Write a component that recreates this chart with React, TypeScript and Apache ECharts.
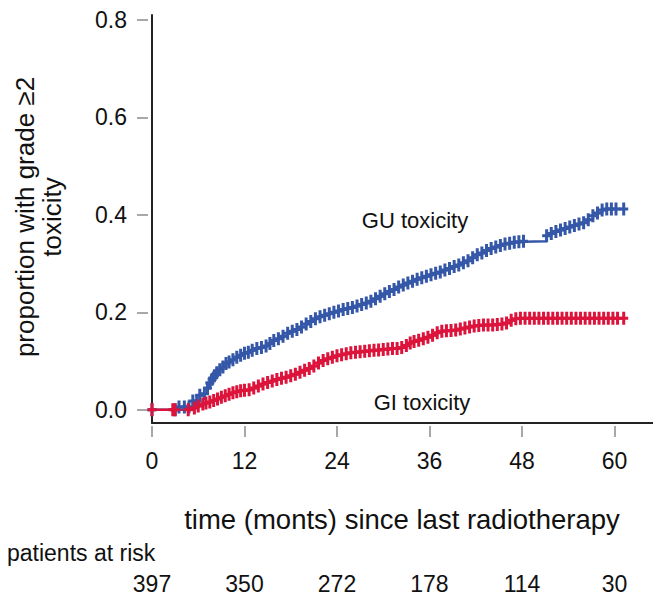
import React, { useEffect, useRef } from "react";
import * as echarts from "echarts";

const xTicks = [0, 12, 24, 36, 48, 60];
const yTicks = [0, 0.2, 0.4, 0.6, 0.8];
const riskTimes = [0, 12, 24, 36, 48, 60];
const riskCounts = [397, 350, 272, 178, 114, 30];

const guData: [number, number][] = [
  [0, 0], [3.0, 0], [3.5, 0.006], [4.2, 0.006], [4.8, 0.006], [5.3, 0.018], [5.8, 0.018],
  [6.2, 0.03], [6.8, 0.033], [7.2, 0.045], [7.5, 0.055], [7.8, 0.063], [8.1, 0.07],
  [8.4, 0.076], [8.8, 0.082], [9.2, 0.088], [9.6, 0.095], [10.0, 0.098], [10.5, 0.103],
  [11.0, 0.108], [11.5, 0.112], [12.0, 0.116], [12.5, 0.118], [13.0, 0.122], [13.6, 0.126],
  [14.2, 0.128], [14.8, 0.131], [15.3, 0.136], [15.8, 0.142], [16.4, 0.146], [17.0, 0.151],
  [17.6, 0.157], [18.2, 0.161], [18.8, 0.165], [19.4, 0.17], [20.0, 0.176], [20.6, 0.181],
  [21.2, 0.187], [21.8, 0.191], [22.4, 0.194], [23.0, 0.197], [23.6, 0.2], [24.2, 0.203],
  [24.8, 0.206], [25.4, 0.208], [26.0, 0.21], [26.6, 0.213], [27.2, 0.216], [27.8, 0.219],
  [28.4, 0.223], [29.0, 0.228], [29.6, 0.233], [30.2, 0.238], [30.8, 0.243], [31.4, 0.247],
  [32.0, 0.252], [32.6, 0.256], [33.2, 0.26], [33.8, 0.264], [34.4, 0.268], [35.0, 0.271],
  [35.6, 0.274], [36.2, 0.277], [36.8, 0.28], [37.4, 0.283], [38.0, 0.287], [38.6, 0.29],
  [39.2, 0.294], [39.8, 0.297], [40.4, 0.302], [41.0, 0.306], [41.6, 0.312], [42.2, 0.318],
  [42.8, 0.322], [43.4, 0.327], [44.0, 0.331], [44.6, 0.334], [45.2, 0.337], [45.8, 0.34],
  [46.4, 0.342], [47.0, 0.344], [47.6, 0.345], [48.2, 0.346], [51.2, 0.357], [51.8, 0.362],
  [52.4, 0.366], [53.0, 0.369], [53.6, 0.372], [54.2, 0.375], [54.8, 0.378], [55.4, 0.381],
  [56.0, 0.384], [56.6, 0.39], [57.2, 0.398], [57.8, 0.404], [58.4, 0.41], [59.0, 0.412],
  [59.6, 0.412], [60.2, 0.412], [61.2, 0.412],
];

const giData: [number, number][] = [
  [0, 0], [2.7, 0], [3.0, 0], [4.7, 0], [5.5, 0.004], [6.0, 0.008], [6.6, 0.012], [7.0, 0.014],
  [7.5, 0.016], [8.0, 0.019], [8.5, 0.022], [9.0, 0.026], [9.5, 0.029], [10.0, 0.032],
  [10.5, 0.035], [11.0, 0.037], [11.5, 0.039], [12.0, 0.04], [12.6, 0.041], [13.2, 0.045],
  [13.8, 0.049], [14.4, 0.053], [15.0, 0.056], [15.6, 0.059], [16.2, 0.062], [16.8, 0.065],
  [17.4, 0.067], [18.0, 0.07], [18.6, 0.073], [19.2, 0.077], [19.8, 0.081], [20.4, 0.085],
  [21.0, 0.09], [21.6, 0.096], [22.2, 0.101], [22.8, 0.105], [23.4, 0.108], [24.0, 0.111],
  [24.6, 0.113], [25.2, 0.115], [25.8, 0.117], [26.4, 0.118], [27.0, 0.119], [27.6, 0.12],
  [28.2, 0.121], [28.8, 0.122], [29.4, 0.123], [30.0, 0.124], [30.6, 0.125], [31.2, 0.126],
  [31.8, 0.126], [32.4, 0.128], [33.0, 0.132], [33.5, 0.137], [34.0, 0.14], [34.6, 0.143],
  [35.2, 0.146], [35.8, 0.149], [36.4, 0.153], [37.0, 0.158], [37.6, 0.161], [38.2, 0.162],
  [38.8, 0.163], [39.4, 0.164], [40.0, 0.166], [40.6, 0.168], [41.2, 0.17], [41.8, 0.172],
  [42.4, 0.173], [43.0, 0.174], [43.6, 0.174], [44.2, 0.174], [44.8, 0.175], [45.4, 0.176],
  [46.0, 0.178], [46.6, 0.184], [47.2, 0.187], [47.8, 0.188], [48.4, 0.188], [49.0, 0.188],
  [49.6, 0.188], [50.2, 0.188], [50.8, 0.188], [51.4, 0.188], [52.0, 0.188], [52.6, 0.188],
  [53.2, 0.188], [53.8, 0.188], [54.4, 0.188], [55.0, 0.188], [55.6, 0.188], [56.2, 0.188],
  [56.8, 0.188], [57.4, 0.188], [58.0, 0.188], [58.6, 0.188], [59.2, 0.188], [59.8, 0.188],
  [60.4, 0.188], [61.2, 0.188],
];

const FONT = '"Liberation Sans", Arial, Helvetica, sans-serif';
const PLUS = "path://M3,0L6,0L6,5L9,5L9,8L6,8L6,13L3,13L3,8L0,8L0,5L3,5Z";
const BLUE = "#3557a8";
const RED = "#dc143c";

export default function App() {
  const ref = useRef<HTMLDivElement>(null);
  useEffect(() => {
    document.body.style.margin = "0";
    const chart = echarts.init(ref.current!, null, { renderer: "svg" });
    const xMin = 0, xMax = 65, yMin = -0.027, yMax = 0.81;
    const grey = "#a8a8a8";
    chart.setOption({
      animation: false,
      grid: { left: 152, right: 0, top: 15, bottom: 173, containLabel: false },
      xAxis: [
        {
          type: "value", min: xMin, max: xMax, position: "bottom",
          axisLine: { show: true, onZero: false, lineStyle: { color: "#222", width: 2 } },
          axisTick: { show: false }, axisLabel: { show: false }, splitLine: { show: false },
        },
        {
          type: "value", min: xMin, max: xMax, position: "bottom", offset: 3,
          axisLine: { show: false, onZero: false },
          axisTick: { show: true, length: 11, customValues: xTicks, lineStyle: { color: grey, width: 2 } },
          axisLabel: { show: true, customValues: xTicks, margin: 23, fontSize: 23, color: "#111", fontFamily: FONT },
          splitLine: { show: false },
        },
        {
          type: "value", min: xMin, max: xMax, position: "bottom", offset: 143,
          axisLine: { show: false, onZero: false }, axisTick: { show: false },
          axisLabel: {
            show: true, customValues: riskTimes, margin: 6, fontSize: 23, color: "#111", fontFamily: FONT,
            formatter: (v: number) => {
              const i = riskTimes.indexOf(v);
              return i >= 0 ? String(riskCounts[i]) : "";
            },
          },
          splitLine: { show: false },
        },
      ],
      yAxis: [
        {
          type: "value", min: yMin, max: yMax, position: "left",
          axisLine: { show: true, onZero: false, lineStyle: { color: "#222", width: 2 } },
          axisTick: { show: false }, axisLabel: { show: false }, splitLine: { show: false },
        },
        {
          type: "value", min: yMin, max: yMax, position: "left", offset: 4,
          axisLine: { show: false, onZero: false },
          axisTick: { show: true, length: 11, customValues: yTicks, lineStyle: { color: grey, width: 2 } },
          axisLabel: {
            show: true, customValues: yTicks, margin: 21, fontSize: 23, color: "#111", fontFamily: FONT,
            formatter: (v: number) => v.toFixed(1),
          },
          splitLine: { show: false },
        },
      ],
      series: [
        {
          name: "GU toxicity", type: "line", step: "end", data: guData,
          xAxisIndex: 0, yAxisIndex: 0,
          symbol: PLUS, symbolSize: [9, 13], showAllSymbol: true,
          itemStyle: { color: BLUE }, lineStyle: { color: BLUE, width: 2.5 },
        },
        {
          name: "GI toxicity", type: "line", step: "end", data: giData,
          xAxisIndex: 0, yAxisIndex: 0,
          symbol: PLUS, symbolSize: [9, 13], showAllSymbol: true,
          itemStyle: { color: RED }, lineStyle: { color: RED, width: 2.5 },
        },
      ],
      graphic: [
        {
          type: "text", x: 38, y: 217, rotation: Math.PI / 2,
          style: {
            text: "proportion with grade ≥2\ntoxicity", font: `26px ${FONT}`, fill: "#111",
            textAlign: "center", textVerticalAlign: "middle", lineHeight: 27,
          },
        },
        {
          type: "text", x: 402, y: 519,
          style: { text: "time (monts) since last radiotherapy", font: `27.5px ${FONT}`, fill: "#111", textAlign: "center", textVerticalAlign: "middle" },
        },
        {
          type: "text", x: 7, y: 553,
          style: { text: "patients at risk", font: `23px ${FONT}`, fill: "#111", textAlign: "left", textVerticalAlign: "middle" },
        },
        {
          type: "text", x: 415, y: 220,
          style: { text: "GU toxicity", font: `22px ${FONT}`, fill: "#111", textAlign: "center", textVerticalAlign: "middle" },
        },
        {
          type: "text", x: 422, y: 402,
          style: { text: "GI toxicity", font: `22px ${FONT}`, fill: "#111", textAlign: "center", textVerticalAlign: "middle" },
        },
      ],
    });
    return () => chart.dispose();
  }, []);
  return <div ref={ref} style={{ width: 653, height: 596 }} />;
}
